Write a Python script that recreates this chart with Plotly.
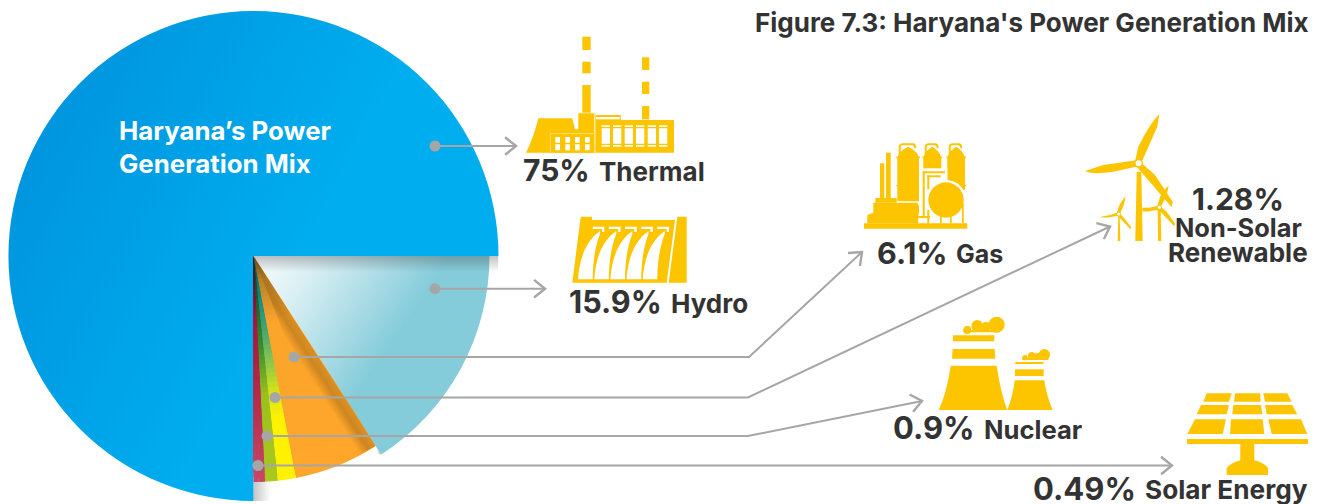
import base64, math
import plotly.graph_objects as go

W, H = 1322, 504
CX, CY = 253.5, 256

# ---- data ----
categories = ["Thermal", "Hydro", "Gas", "Non-Solar Renewable", "Nuclear", "Solar Energy", "Unlabelled"]
shares = [75, 15.9, 6.1, 1.28, 0.9, 0.49, 0.33]
share_labels = ["75%", "15.9%", "6.1%", "1.28%", "0.9%", "0.49%"]

# ---- styles ----
YEL = "#fdc500"
GREY = "#a6a6a6"
INK = "#333333"
NONE = "rgba(0,0,0,0)"
FONT = "Inter"


def lerp_hex(stops, t):
    for (t0, c0), (t1, c1) in zip(stops, stops[1:]):
        if t <= t1:
            f = (t - t0) / (t1 - t0) if t1 > t0 else 0
            a = [int(c0[i:i + 2], 16) for i in (1, 3, 5)]
            b = [int(c1[i:i + 2], 16) for i in (1, 3, 5)]
            return "rgb(%d,%d,%d)" % tuple(round(x + (y - x) * f) for x, y in zip(a, b))
    return stops[-1][1]


ramps = {
    "Gas": [(0, "#6a4a1c"), (.12, "#b9812a"), (.32, "#fba52b"), (1, "#ffa62b")],
    "Non-Solar Renewable": [(0, "#063f4a"), (.2, "#158a86"), (.36, "#4fa86e"), (.49, "#8ec64e"),
                            (.6, "#cde01c"), (.74, "#fff200"), (1, "#fff200")],
    "Nuclear": [(0, "#062a1a"), (.25, "#1f6b2c"), (.42, "#3a8f2c"), (.63, "#9bc11f"), (1, "#a8c81e")],
    "Solar Energy": [(0, "#3a0a20"), (.3, "#a3173f"), (.7, "#b8304f"), (1, "#c64766")],
    "Unlabelled": [(0, "#3a0a20"), (.3, "#a3173f"), (.7, "#b8304f"), (1, "#c64766")],
}


def pie(radius, colors):
    return go.Pie(
        labels=categories, values=shares, sort=False, direction="clockwise", rotation=180,
        marker=dict(colors=colors, line=dict(width=0)), textinfo="none", hoverinfo="skip",
        showlegend=False,
        domain=dict(x=[(CX - radius) / W, (CX + radius) / W],
                    y=[1 - (CY + radius) / H, 1 - (CY - radius) / H]),
    )


traces = [
    pie(245, ["#00aeef"] + [NONE] * 6),
    pie(236, [NONE, "#85ccda"] + [NONE] * 5),
]
STEPS = 48
for k in range(STEPS, 0, -1):
    t = k / STEPS
    traces.append(pie(226 * t, [NONE, NONE] + [lerp_hex(ramps[c], t) for c in categories[2:]]))

fig = go.Figure(traces)


# ---- shading overlay (gradients only) ----
def pt(r, share_from_six):
    a = math.radians(share_from_six * 3.6)  # clockwise from 6 o'clock
    return CX - r * math.sin(a), CY + r * math.cos(a)


def p(*xy):
    return "M" + " L".join(f"{x:.1f},{y:.1f}" for x, y in xy) + "Z"


hyd_end = 90.9
x_a, y_a = pt(226, hyd_end)
x_b, y_b = pt(236, hyd_end)
nx, ny = -(y_a - CY) / 226, (x_a - CX) / 226  # perpendicular into the orange slice
nx, ny = (-abs(nx), abs(ny))
svg = f'''<svg xmlns="http://www.w3.org/2000/svg" width="{W}" height="{H}" viewBox="0 0 {W} {H}">
<defs>
<linearGradient id="b" gradientUnits="userSpaceOnUse" x1="10" y1="60" x2="330" y2="230">
<stop offset="0" stop-color="#0068c0" stop-opacity=".42"/><stop offset="1" stop-color="#0068c0" stop-opacity="0"/></linearGradient>
<linearGradient id="h" gradientUnits="userSpaceOnUse" x1="262" y1="258" x2="390" y2="345">
<stop offset="0" stop-color="#fff" stop-opacity=".92"/><stop offset=".3" stop-color="#fff" stop-opacity=".7"/><stop offset="1" stop-color="#fff" stop-opacity="0"/></linearGradient>
<linearGradient id="t" x1="0" y1="0" x2="0" y2="1">
<stop offset="0" stop-color="#333" stop-opacity=".3"/><stop offset="1" stop-color="#333" stop-opacity="0"/></linearGradient>
<linearGradient id="s" x1="0" y1="0" x2="1" y2="0">
<stop offset="0" stop-color="#888" stop-opacity=".5"/><stop offset="1" stop-color="#888" stop-opacity="0"/></linearGradient>
<linearGradient id="o" gradientUnits="userSpaceOnUse" x1="{x_a:.1f}" y1="{y_a:.1f}" x2="{x_a + 18 * nx:.1f}" y2="{y_a + 18 * ny:.1f}">
<stop offset="0" stop-color="#8a5a10" stop-opacity=".28"/><stop offset=".45" stop-color="#8a5a10" stop-opacity=".42"/><stop offset="1" stop-color="#8a5a10" stop-opacity="0"/></linearGradient>
<linearGradient id="g" gradientUnits="userSpaceOnUse" x1="{x_a:.1f}" y1="{y_a:.1f}" x2="{x_b + 2 * nx:.1f}" y2="{y_b - 9:.1f}">
<stop offset="0" stop-color="#888" stop-opacity="0"/><stop offset="1" stop-color="#888" stop-opacity=".55"/></linearGradient>
<clipPath id="big"><circle cx="{CX}" cy="{CY}" r="245"/></clipPath>
</defs>
<path d="M{CX},{CY} L{CX},501 A245,245 0 1 1 498.5,{CY} Z" fill="url(#b)"/>
<path d="M{CX},{CY} L489.5,{CY} A236,236 0 0 1 {x_b:.1f},{y_b:.1f} Z" fill="url(#h)"/>
<rect x="{CX}" y="{CY}" width="245" height="16" fill="url(#t)" clip-path="url(#big)"/>
<rect x="{CX}" y="482" width="17" height="20" fill="url(#s)" clip-path="url(#big)"/>
<path d="{p((CX, CY), (x_a, y_a), pt(226, hyd_end + 3.2))}" fill="url(#o)"/>
<path d="{p((x_a, y_a), (x_b, y_b), (x_a + 12 * nx, y_a + 12 * ny))}" fill="url(#g)"/>
</svg>'''
fig.add_layout_image(
    source="data:image/svg+xml;base64," + base64.b64encode(svg.encode()).decode(),
    xref="x", yref="y", x=0, y=0, sizex=W, sizey=H, sizing="stretch",
    xanchor="left", yanchor="top", layer="above",
)

shapes = []


def path_shape(d, fill=YEL):
    shapes.append(dict(type="path", path=d, fillcolor=fill, line=dict(width=0), xref="x", yref="y", layer="above"))


def Z(ox, oy):
    """Icon helper: convert zoom-crop coordinates to page pixels."""
    return lambda x, y: (ox + x / 3, oy + y / 3)


def poly(f, pts, fill=YEL):
    path_shape("M" + " L".join("%.1f,%.1f" % f(*q) for q in pts) + " Z", fill)


def rect(f, x0, y0, x1, y1, fill=YEL):
    poly(f, [(x0, y0), (x1, y0), (x1, y1), (x0, y1)], fill)


def circ(f, x, y, r, fill=YEL):
    cx, cy = f(x, y)
    r /= 3
    shapes.append(dict(type="circle", x0=cx - r, x1=cx + r, y0=cy - r, y1=cy + r, fillcolor=fill,
                       line=dict(width=0), xref="x", yref="y", layer="above"))


def curve(f, cmds, fill=YEL):
    out = []
    for c, *v in cmds:
        coords = []
        for i in range(0, len(v), 2):
            coords.append("%.1f,%.1f" % f(v[i], v[i + 1]))
        out.append(c + " ".join(coords))
    path_shape(" ".join(out) + " Z", fill)


# thermal plant
f = Z(510, 30)
for seg in [(217, 20, 242, 60), (217, 95, 242, 130), (217, 165, 242, 248),
            (396, 82, 418, 120), (396, 155, 418, 192), (396, 228, 418, 268)]:
    rect(f, *seg)
curve(f, [("M", 48, 368), ("Q", 72, 320, 85, 265), ("L", 187, 265), ("L", 195, 298), ("L", 205, 298),
          ("L", 205, 250), ("L", 252, 250), ("L", 252, 368)])
rect(f, 256, 270, 492, 368)
rect(f, 256, 255, 332, 270)
rect(f, 258, 261, 329, 268, "#fff")
rect(f, 119, 309, 254, 368)
for x in (136, 166, 195, 225):
    rect(f, x, 321, x + 14, 361, "#fff")
rect(f, 132, 338, 242, 343)
for x in (275, 309, 344, 378, 413, 447):
    rect(f, x, 286, x + 25, 350, "#fff")
for y in (291, 341):
    rect(f, 272, y, 474, y + 4)
rect(f, 120, 309, 122, 368, "#ffe680")
rect(f, 120, 309, 254, 311, "#ffe680")
rect(f, 253, 250, 256, 368, "#ffe680")

# hydro dam
poly(f, [(212, 560), (246, 560), (246, 570), (495, 570), (470, 758), (187, 758)])
poly(f, [(502, 560), (530, 560), (530, 758), (476, 758)])
for i in range(5):
    dx = 48.5 * i
    curve(f, [("M", 204 + dx, 748), ("C", 208 + dx, 690, 225 + dx, 635, 270 + dx, 603), ("L", 270 + dx, 612),
              ("C", 255 + dx, 650, 248 + dx, 700, 248 + dx, 748)], "#fff")
    poly(f, [(248 + dx, 590), (283 + dx, 590), (283 + dx, 606), (276 + dx, 606), (276 + dx, 597), (248 + dx, 597)], "#fff")

# gas plant
f = Z(850, 100)
rect(f, 42, 370, 352, 386)
poly(f, [(52, 370), (52, 345), (70, 338), (70, 308), (200, 308), (216, 322), (205, 345), (205, 370)])
rect(f, 90, 190, 103, 300)
rect(f, 108, 158, 122, 300)
rect(f, 76, 294, 140, 308)
for x0, x1, y1 in ((142, 207, 304), (220, 274, 215), (292, 345, 270)):
    curve(f, [("M", x0, y1), ("L", x0, 172), ("Q", x0 + 8, 150, (x0 + x1) / 2, 140), ("Q", x1 - 8, 150, x1, 172), ("L", x1, y1)])
    rect(f, x0 - 3, 170, x1 + 3, 174)
    if y1 > 250:
        rect(f, x0 - 3, 255, x1 + 3, 259)
    curve(f, [("M", x0 + 4, 170), ("L", x0 + 4, 142), ("Q", x0 + 4, 130, x0 + 16, 130), ("L", x1 - 18, 130),
              ("Q", x1 - 8, 130, x1 - 8, 145), ("L", x1 - 14, 145), ("Q", x1 - 14, 136, x1 - 20, 136),
              ("L", x0 + 16, 136), ("Q", x0 + 10, 136, x0 + 10, 142), ("L", x0 + 10, 170)])
rect(f, 207, 205, 292, 300, "#fff")
rect(f, 207, 300, 240, 352, "#fff")
rect(f, 218, 214, 285, 220)
rect(f, 218, 214, 224, 352)
rect(f, 200, 348, 240, 354)
rect(f, 232, 226, 272, 232)
rect(f, 232, 226, 238, 268)
circ(f, 288, 300, 60, "#fff")
circ(f, 288, 300, 53)
rect(f, 270, 345, 275, 370)
rect(f, 300, 345, 305, 370)
rect(f, 336, 310, 341, 370)
rect(f, 232, 330, 238, 370)
rect(f, 205, 310, 216, 316, "#fff")

# wind turbines
f = Z(1070, 100)
poly(f, [(200, 215), (214, 215), (218, 423), (196, 423)])
rect(f, 217, 323, 270, 331)
poly(f, [(263, 330), (272, 330), (274, 423), (264, 423)])
poly(f, [(145, 348), (149, 348), (151, 423), (143, 423)])


def blades(hx, hy, up, left, right, s=1.0):
    curve(f, [("M", hx - 12 * s, hy - 2 * s), ("L", *up[0]), ("Q", *up[1], *up[2]), ("L", *up[3]), ("L", hx + 10 * s, hy - 6 * s)])
    curve(f, [("M", hx - 2 * s, hy - 10 * s), ("L", *left[0]), ("L", *left[1]), ("Q", *left[2], *left[3]), ("L", hx + 2 * s, hy + 8 * s)])
    curve(f, [("M", hx + 8 * s, hy - 2 * s), ("L", *right[0]), ("L", *right[1]), ("L", *right[2]), ("L", hx - 6 * s, hy + 10 * s)])
    circ(f, hx, hy, 13 * s)
    circ(f, hx, hy, 9 * s, "#fff")


blades(206, 190, [(205, 140), (240, 70), (268, 42), (262, 80)], [(100, 195), (45, 213), (70, 225), (130, 215)],
       [(255, 225), (308, 305), (305, 322)])
blades(268, 322, [(270, 290), (284, 265), (296, 257), (290, 285)], [(240, 323), (214, 333), (222, 337), (245, 332)],
       [(290, 335), (316, 372), (312, 378)], 0.55)
blades(146, 342, [(147, 318), (157, 298), (167, 290), (161, 315)], [(120, 345), (90, 351), (98, 354), (125, 351)],
       [(160, 352), (184, 382), (181, 387)], 0.5)

# cooling towers
f = Z(880, 310)
rect(f, 219, 76, 343, 94)
poly(f, [(218, 117), (344, 117), (346, 146), (216, 146)])
curve(f, [("M", 212, 167), ("L", 350, 167), ("Q", 362, 250, 382, 300), ("L", 176, 300), ("Q", 200, 250, 212, 167)])
rect(f, 406, 156, 490, 162)
rect(f, 405, 178, 491, 198)
curve(f, [("M", 404, 211), ("L", 493, 211), ("Q", 500, 260, 518, 300), ("L", 382, 300), ("Q", 398, 260, 404, 211)])
for x, y, r in [(262, 60, 12), (292, 48, 18), (318, 50, 14), (350, 44, 24)]:
    circ(f, x, y, r)
rect(f, 250, 60, 360, 67)
for x, y, r in [(435, 143, 8), (455, 137, 11), (472, 138, 9), (493, 134, 17)]:
    circ(f, x, y, r)
rect(f, 427, 143, 505, 150)

# solar panel
f = Z(1130, 380)
panels = [
    [(230, 40), (305, 40), (297, 65), (220, 65)], [(315, 40), (390, 40), (392, 65), (312, 65)],
    [(400, 40), (472, 40), (485, 65), (405, 65)], [(213, 75), (297, 75), (290, 103), (200, 103)],
    [(310, 75), (393, 75), (397, 103), (307, 103)], [(405, 75), (487, 75), (502, 103), (410, 103)],
    [(195, 118), (288, 118), (278, 162), (172, 162)], [(303, 118), (398, 118), (403, 162), (300, 162)],
    [(415, 118), (513, 118), (532, 162), (425, 162)],
]
for q in panels:
    poly(f, q)
rect(f, 171, 177, 534, 192)
rect(f, 331, 192, 373, 245)
curve(f, [("M", 290, 285), ("L", 290, 265), ("Q", 300, 248, 335, 240), ("L", 370, 240), ("Q", 405, 248, 414, 265), ("L", 414, 285)])

# leader lines, dots, open arrowheads
leaders = [
    [(435, 146), (516, 146)],
    [(435, 288.7), (545, 288.7)],
    [(294, 357), (749, 357), (862, 252)],
    [(275, 397.5), (748, 397.5), (1110, 226.5)],
    [(267, 436), (748, 436), (922, 401)],
    [(258, 465.5), (1172, 465.5)],
]
for line in leaders:
    d = "M" + " L".join(f"{x},{y}" for x, y in line)
    shapes.append(dict(type="path", path=d, line=dict(color=GREY, width=2), xref="x", yref="y", layer="above"))
    (x0, y0), (x1, y1) = line[0], line[-1]
    px, py = line[-2]
    a = math.atan2(y1 - py, x1 - px)
    L = 14
    pts = [(x1 - L * math.cos(a + s * .68), y1 - L * math.sin(a + s * .68)) for s in (1, -1)]
    head = f"M{pts[0][0]:.1f},{pts[0][1]:.1f} L{x1},{y1} L{pts[1][0]:.1f},{pts[1][1]:.1f}"
    shapes.append(dict(type="path", path=head, line=dict(color=GREY, width=2.4), xref="x", yref="y", layer="above"))
    shapes.append(dict(type="circle", x0=x0 - 5.5, x1=x0 + 5.5, y0=y0 - 5.5, y1=y0 + 5.5,
                       fillcolor=GREY, line=dict(width=0), xref="x", yref="y", layer="above"))

fig.update_layout(shapes=shapes)

# ---- text ----
ann = []


def text(x, base, s, size, anchor="left", color=INK, family=FONT):
    ann.append(dict(x=x, y=base - 0.36 * size, text=f"<b>{s}</b>", xref="x", yref="y", showarrow=False,
                    xanchor=anchor, yanchor="middle", xshift=0, align=anchor,
                    font=dict(family=family, size=size, color=color), borderpad=0, borderwidth=0))


text(1309, 32, "Figure 7.3: Haryana's Power Generation Mix", 26, "right")
text(119, 139.5, "Haryana’s Power", 25.8, "left", "#ffffff")
text(119, 173, "Generation Mix", 25.8, "left", "#ffffff")
text(523, 181, share_labels[0], 30)
text(599, 181, categories[0], 26)
text(569, 313, share_labels[1], 30.6)
text(671, 313, categories[1], 26)
text(877, 263, share_labels[2], 30.5)
text(956, 263, categories[2], 25)
text(1238, 210, share_labels[3], 30, "center")
text(1238, 237, "Non-Solar", 25.4, "center")
text(1238, 262, "Renewable", 26, "center")
text(893, 439, share_labels[4], 31)
text(984, 439, categories[4], 25.6)
text(1033, 500, share_labels[5], 31)
text(1145, 499, categories[5], 26.2)

fig.update_layout(
    annotations=ann,
    width=W, height=H, autosize=False,
    margin=dict(l=0, r=0, t=0, b=0, pad=0),
    paper_bgcolor="#ffffff", plot_bgcolor="rgba(0,0,0,0)",
    xaxis=dict(range=[0, W], visible=False, fixedrange=True),
    yaxis=dict(range=[H, 0], visible=False, fixedrange=True),
    showlegend=False,
)
fig.write_html("out.html", config=dict(displayModeBar=False),
               post_script="document.body.style.margin='0';document.documentElement.style.overflow='hidden';")
